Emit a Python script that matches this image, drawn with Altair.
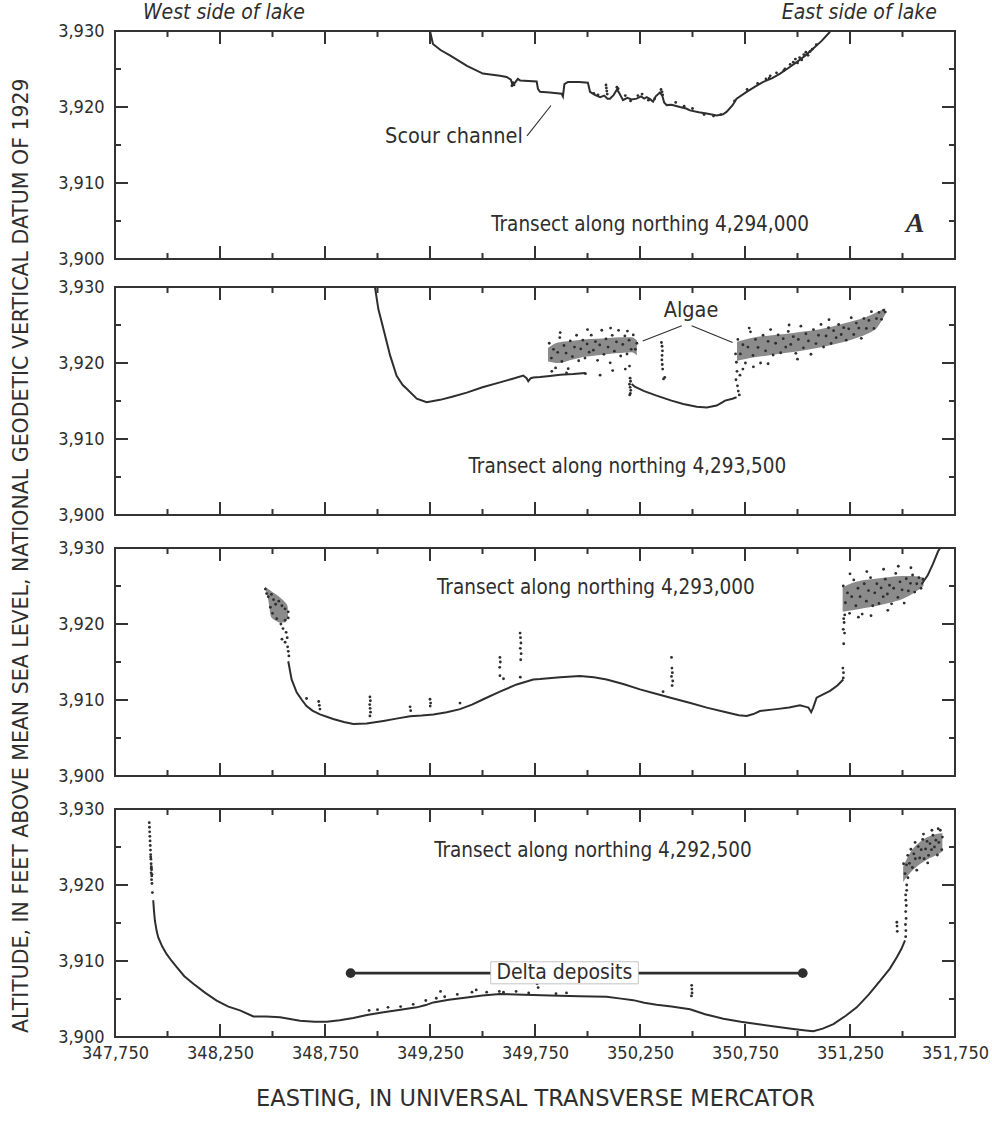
import altair as alt
import pandas as pd

FONT = "DejaVu Sans Condensed, Liberation Sans Narrow, sans-serif"
TFONT = "DejaVu Sans, sans-serif"
SERIF = "Liberation Serif, DejaVu Serif, serif"
INK = "#2e2e2e"
FRAME = "#333333"
CLOUD = "#444444"
W, H = 840, 228
XDOM = [347750, 351750]
YDOM = [3900, 3930]

X_TITLE = "EASTING, IN UNIVERSAL TRANSVERSE MERCATOR"
Y_TITLE = "ALTITUDE, IN FEET ABOVE MEAN SEA LEVEL, NATIONAL GEODETIC VERTICAL DATUM OF  1929"

X_LABELS = [347750, 348250, 348750, 349250, 349750, 350250, 350750, 351250, 351750]
X_MAJOR = [348250, 348750, 349250, 349750, 350250, 350750, 351250]
X_MINOR = [348000, 348500, 349000, 349500, 350000, 350500, 351000, 351500]
Y_LABELS = [3900, 3910, 3920, 3930]
Y_MAJOR = [3910, 3920]
Y_MINOR = [3905, 3915, 3925]

# ---------------- Panel 1: northing 4,294,000 ----------------
P1_LINE = [(349250, 3930.0), (349264, 3928.3), (349300, 3927.5), (349345, 3926.8), (349426, 3925.4),
           (349502, 3924.4), (349583, 3924.1), (349615, 3923.95), (349635, 3923.6), (349642, 3923.0),
           (349655, 3923.2), (349668, 3923.7), (349679, 3923.5), (349758, 3923.35), (349764, 3922.4),
           (349774, 3922.0), (349820, 3921.9), (349877, 3921.75), (349883, 3921.4), (349890, 3923.0),
           (349907, 3923.3), (349960, 3923.3), (350002, 3923.2), (350012, 3922.0), (350035, 3921.6),
           (350060, 3921.3), (350080, 3921.5), (350095, 3921.1), (350107, 3921.1), (350125, 3921.6),
           (350140, 3922.3), (350150, 3921.9), (350169, 3920.9), (350190, 3921.2), (350210, 3921.0),
           (350234, 3921.1), (350255, 3921.4), (350270, 3921.1), (350282, 3921.3), (350300, 3921.0),
           (350312, 3920.7), (350325, 3921.4), (350345, 3921.9), (350356, 3921.5), (350365, 3920.6),
           (350377, 3920.25), (350400, 3920.3), (350440, 3920.0), (350470, 3919.8), (350488, 3919.55),
           (350530, 3919.3), (350567, 3919.15), (350615, 3918.9), (350645, 3919.05), (350662, 3919.35),
           (350690, 3920.2), (350710, 3921.1), (350758, 3922.0), (350800, 3922.7), (350837, 3923.3),
           (350880, 3923.8), (350917, 3924.4), (350960, 3925.2), (350996, 3925.9), (351035, 3926.7),
           (351075, 3927.7), (351115, 3928.7), (351155, 3929.9)]
P1_DOTS = [(349640, 3922.8), (349645, 3923.2), (349650, 3922.9), (350088, 3922.9), (350090, 3922.5),
           (350092, 3922.1), (350094, 3921.7), (350140, 3922.6), (350146, 3922.4), (350350, 3922.3),
           (350355, 3922.0), (350358, 3921.6), (350240, 3921.5), (350260, 3921.7), (350180, 3921.5),
           (350030, 3921.8), (350050, 3921.6), (350420, 3920.6), (350460, 3920.1), (350500, 3919.8),
           (350850, 3923.7), (350870, 3924.1), (350900, 3924.5), (350940, 3925.0), (350965, 3925.6),
           (350990, 3926.3), (351010, 3926.5), (351040, 3927.2), (351060, 3927.3), (351090, 3928.2),
           (351020, 3926.2), (350980, 3925.9), (351050, 3926.8), (351070, 3927.6), (350700, 3920.8),
           (350760, 3922.3), (350810, 3923.1), (350205, 3920.8), (350290, 3920.9), (350320, 3921.1),
           (350555, 3919.0), (350600, 3918.8), (350635, 3919.0), (350865, 3923.8), (350935, 3924.8),
           (351000, 3925.8), (351030, 3926.9)]

# ---------------- Panel 2: northing 4,293,500 ----------------
P2_LINE_W = [(348988, 3930.0), (349004, 3927.1), (349028, 3924.5), (349060, 3921.0), (349091, 3918.3),
             (349120, 3917.1), (349139, 3916.6), (349187, 3915.3), (349234, 3914.85), (349298, 3915.15),
             (349360, 3915.6), (349425, 3916.1), (349500, 3916.8), (349583, 3917.45), (349640, 3917.9),
             (349694, 3918.35), (349710, 3918.0), (349718, 3917.6), (349730, 3918.0), (349742, 3918.1),
             (349774, 3918.15), (349821, 3918.3), (349870, 3918.45), (349932, 3918.55), (349990, 3918.7)]
P2_LINE_M = [(350210, 3917.25), (350225, 3916.9), (350270, 3916.3), (350329, 3915.7), (350400, 3915.05),
             (350456, 3914.6), (350520, 3914.25), (350568, 3914.15), (350615, 3914.4), (350640, 3914.8),
             (350655, 3915.05), (350690, 3915.3), (350710, 3915.5)]
P2_ALGAE_W_E = [349812, 349860, 349920, 349980, 350040, 350100, 350160, 350210, 350235]
P2_ALGAE_W_HI = [3922.0, 3922.7, 3922.9, 3923.1, 3923.2, 3923.3, 3923.4, 3923.4, 3923.0]
P2_ALGAE_W_LO = [3920.2, 3920.0, 3920.4, 3920.8, 3921.0, 3921.2, 3921.3, 3921.4, 3921.0]
P2_ALGAE_E_E = [350712, 350780, 350860, 350940, 351020, 351100, 351180, 351260, 351330, 351380, 351418]
P2_ALGAE_E_HI = [3922.8, 3923.3, 3923.6, 3923.8, 3924.1, 3924.4, 3924.9, 3925.5, 3926.1, 3926.7, 3927.2]
P2_ALGAE_E_LO = [3920.3, 3920.7, 3921.0, 3921.3, 3921.6, 3922.0, 3922.5, 3923.1, 3923.8, 3924.7, 3926.4]
P2_DOTS = [
    # western algae cloud
    (349818, 3922.6), (349828, 3920.65), (349838, 3921.8), (349848, 3919.35), (349858, 3921.4),
    (349868, 3923.35), (349878, 3920.2), (349888, 3922.3), (349898, 3921.3), (349908, 3919.25),
    (349918, 3922.9), (349928, 3920.85), (349938, 3922.1), (349948, 3923.65), (349958, 3920.3),
    (349968, 3921.85), (349978, 3923.0), (349988, 3920.65), (349998, 3922.5), (350008, 3921.43),
    (350018, 3923.66), (350028, 3921.69), (350038, 3922.82), (350048, 3920.35), (350058, 3922.38),
    (350068, 3924.31), (350078, 3921.14), (350088, 3923.17), (350098, 3922.1), (350108, 3920.02),
    (350118, 3923.64), (350128, 3921.56), (350138, 3922.78), (350148, 3924.3), (350158, 3920.92),
    (350168, 3922.44), (350178, 3923.56), (350188, 3921.18), (350198, 3923.0), (350208, 3921.8),
    (350218, 3923.7), (350228, 3921.8), (350235, 3922.6), (349830, 3918.9), (349900, 3918.7),
    (349990, 3918.6), (350060, 3918.4), (350120, 3919.0), (350180, 3919.2), (349870, 3924.0),
    (350000, 3924.4), (350110, 3924.6), (350190, 3924.2),
    # vertical strings
    (350200, 3919.6), (350203, 3918.0), (350205, 3917.6), (350200, 3917.2), (350203, 3916.8),
    (350206, 3916.4), (350204, 3916.0), (350201, 3915.8),
    (350352, 3922.7), (350355, 3922.2), (350357, 3921.6), (350355, 3921.0), (350354, 3920.4),
    (350356, 3919.8), (350358, 3919.2), (350362, 3917.9), (350368, 3918.1),
    (350705, 3921.2), (350709, 3920.1), (350712, 3918.9), (350707, 3917.8), (350714, 3917.0),
    (350718, 3916.3), (350723, 3915.8), (350726, 3918.4),
    # eastern algae cloud
    (350716, 3923.1), (350728, 3921.2), (350740, 3922.4), (350752, 3920.0), (350764, 3922.1),
    (350776, 3924.1), (350788, 3921.0), (350800, 3923.1), (350812, 3922.05), (350824, 3920.0),
    (350836, 3923.65), (350848, 3921.6), (350860, 3922.85), (350872, 3924.4), (350884, 3921.05),
    (350896, 3922.6), (350908, 3923.7), (350920, 3921.35), (350932, 3923.2), (350944, 3922.1),
    (350956, 3924.15), (350968, 3922.45), (350980, 3923.46), (350992, 3921.27), (351004, 3923.1),
    (351016, 3924.85), (351028, 3922.0), (351040, 3923.85), (351052, 3922.9), (351064, 3921.15),
    (351076, 3924.4), (351088, 3922.55), (351100, 3923.65), (351112, 3925.08), (351124, 3922.11),
    (351136, 3923.55), (351148, 3924.64), (351160, 3922.57), (351172, 3924.25), (351184, 3923.33),
    (351196, 3925.07), (351208, 3923.75), (351220, 3924.65), (351232, 3923.0), (351244, 3924.5),
    (351256, 3925.95), (351268, 3923.75), (351280, 3925.25), (351292, 3924.6), (351304, 3923.25),
    (351316, 3925.85), (351328, 3924.55), (351340, 3925.6), (351352, 3926.75), (351364, 3924.55),
    (351376, 3925.85), (351388, 3926.65), (351400, 3925.75), (351410, 3926.95), (351418, 3926.7),
    (350740, 3919.2), (350790, 3919.5), (350860, 3919.9), (351000, 3920.5), (350770, 3924.6),
    (350960, 3925.0), (351150, 3925.7)]

# ---------------- Panel 3: northing 4,293,000 ----------------
P3_LINE = [(348575, 3915.1), (348591, 3912.7), (348615, 3911.0), (348640, 3910.0), (348662, 3909.2),
           (348690, 3908.6), (348726, 3908.1), (348789, 3907.5), (348840, 3907.1), (348885, 3906.85),
           (348948, 3906.9), (349028, 3907.25), (349090, 3907.55), (349155, 3907.85), (349210, 3907.95),
           (349266, 3908.1), (349330, 3908.4), (349393, 3908.8), (349450, 3909.4), (349504, 3910.1),
           (349583, 3911.1), (349663, 3912.05), (349742, 3912.7), (349774, 3912.75), (349870, 3913.0),
           (349964, 3913.15), (350030, 3913.0), (350091, 3912.7), (350170, 3912.1), (350250, 3911.4),
           (350330, 3910.8), (350409, 3910.2), (350490, 3909.6), (350568, 3909.0), (350660, 3908.4),
           (350720, 3908.0), (350758, 3907.9), (350790, 3908.15), (350821, 3908.55), (350900, 3908.8),
           (350960, 3909.0), (351012, 3909.3), (351040, 3909.1), (351052, 3909.0), (351065, 3908.4),
           (351075, 3909.0), (351091, 3910.3), (351155, 3911.2), (351190, 3911.9), (351218, 3912.7)]
P3_LINE_E = [(351590, 3925.2), (351620, 3926.4), (351645, 3927.9), (351670, 3929.6), (351680, 3930.0)]
P3_COMET_Z = [3924.9, 3924.4, 3923.4, 3922.3, 3921.0, 3920.2]
P3_COMET_L = [348464, 348468, 348478, 348485, 348492, 348530]
P3_COMET_R = [348466, 348490, 348540, 348572, 348574, 348560]
P3_ALGAE_E = [351215, 351260, 351320, 351380, 351440, 351500, 351550, 351600]
P3_ALGAE_HI = [3924.8, 3925.4, 3925.8, 3926.0, 3926.2, 3926.3, 3926.3, 3926.1]
P3_ALGAE_LO = [3921.6, 3921.8, 3922.1, 3922.4, 3922.8, 3923.3, 3924.0, 3925.0]
P3_DOTS = [
    (348662, 3910.2), (348720, 3909.8), (348723, 3909.3), (348726, 3908.8), (348964, 3910.4),
    (348966, 3909.9), (348963, 3909.4), (348965, 3908.9), (348967, 3908.4), (348964, 3907.9),
    (349155, 3909.1), (349158, 3908.6), (349250, 3910.1), (349253, 3909.6), (349251, 3909.2),
    (349393, 3909.6), (349583, 3915.6), (349585, 3915.0), (349582, 3914.3), (349583, 3913.2),
    (349600, 3912.8), (349679, 3918.8), (349681, 3918.2), (349683, 3917.5), (349680, 3916.8),
    (349684, 3916.1), (349682, 3915.3), (349680, 3913.0), (350400, 3915.6), (350402, 3914.2),
    (350404, 3913.6), (350400, 3913.1), (350406, 3912.5), (350403, 3911.9), (350360, 3911.1),
    # western comet of algae
    (348466, 3924.6), (348472, 3924.0), (348480, 3923.6), (348495, 3923.9), (348505, 3923.2),
    (348515, 3922.6), (348530, 3923.0), (348545, 3922.4), (348560, 3922.0), (348575, 3921.6),
    (348575, 3920.8), (348560, 3920.5), (348540, 3920.0), (348520, 3920.7), (348500, 3921.4),
    (348490, 3922.2), (348550, 3919.4), (348565, 3918.9), (348570, 3918.2), (348560, 3917.6),
    (348572, 3917.0), (348575, 3916.4), (348578, 3915.8), (348545, 3918.0),
    # eastern trail and cloud
    (351218, 3912.9), (351219, 3913.6), (351216, 3914.2), (351220, 3917.4), (351224, 3918.8),
    (351218, 3919.3), (351222, 3920.2), (351220, 3920.7), (351225, 3921.2),
    (351218, 3925.0), (351228, 3922.8), (351238, 3924.1), (351248, 3921.4), (351258, 3923.6),
    (351268, 3925.8), (351278, 3922.4), (351288, 3924.7), (351298, 3923.6), (351308, 3921.3),
    (351318, 3925.3), (351328, 3923.0), (351338, 3924.4), (351348, 3926.1), (351358, 3922.4),
    (351368, 3924.1), (351378, 3925.3), (351388, 3922.7), (351398, 3924.75), (351408, 3923.6),
    (351418, 3925.9), (351428, 3923.95), (351438, 3925.1), (351448, 3922.65), (351458, 3924.7),
    (351468, 3926.65), (351478, 3923.5), (351488, 3925.55), (351498, 3924.5), (351508, 3922.75),
    (351518, 3925.95), (351528, 3924.35), (351538, 3925.35), (351548, 3926.45), (351558, 3924.2),
    (351568, 3925.3), (351578, 3926.1), (351588, 3924.7), (351598, 3925.9),
    (351250, 3926.6), (351330, 3926.9), (351410, 3927.2), (351480, 3927.6), (351540, 3927.4),
    (351290, 3920.9), (351350, 3921.1), (351430, 3921.8)]

# ---------------- Panel 4: northing 4,292,500 ----------------
P4_LINE = [(347932, 3918.0), (347936, 3916.5), (347940, 3915.3), (347948, 3914.0), (347956, 3913.1),
           (347975, 3911.9), (347996, 3910.9), (348020, 3910.0), (348044, 3909.2), (348080, 3908.0),
           (348123, 3907.0), (348180, 3905.8), (348234, 3904.8), (348290, 3904.0), (348345, 3903.5),
           (348409, 3902.7), (348470, 3902.7), (348536, 3902.6), (348631, 3902.15), (348700, 3902.0),
           (348758, 3902.0), (348820, 3902.2), (348885, 3902.5), (348950, 3902.9), (349028, 3903.25),
           (349110, 3903.6), (349187, 3903.9), (349230, 3904.2), (349266, 3904.55), (349340, 3904.9),
           (349425, 3905.2), (349500, 3905.45), (349583, 3905.65), (349700, 3905.55), (349821, 3905.45),
           (349960, 3905.35), (350091, 3905.3), (350160, 3905.05), (350218, 3904.85), (350270, 3904.5),
           (350329, 3904.25), (350400, 3904.0), (350488, 3903.65), (350560, 3903.0), (350647, 3902.4),
           (350730, 3902.0), (350806, 3901.7), (350900, 3901.35), (350980, 3901.05), (351040, 3900.85),
           (351075, 3900.75), (351120, 3901.1), (351171, 3901.7), (351230, 3902.8), (351282, 3903.9),
           (351340, 3905.6), (351393, 3907.4), (351440, 3909.0), (351473, 3910.5), (351495, 3911.6),
           (351512, 3912.7)]
P4_ALGAE_E = [351503, 351540, 351580, 351620, 351660, 351690]
P4_ALGAE_HI = [3922.4, 3924.4, 3925.6, 3926.3, 3926.7, 3926.8]
P4_ALGAE_LO = [3920.4, 3921.7, 3922.7, 3923.4, 3923.9, 3924.4]
P4_DOTS = [
    (347913, 3928.2), (347914, 3927.6), (347915, 3927.0), (347916, 3926.4), (347917, 3925.8),
    (347918, 3925.2), (347919, 3924.6), (347920, 3924.0), (347921, 3923.4), (347922, 3922.8),
    (347923, 3922.4), (347924, 3922.0), (347922, 3921.6), (347925, 3921.2), (347924, 3920.7),
    (347926, 3920.2), (347928, 3919.0), (347920, 3923.7), (347923, 3922.2), (347926, 3921.4),
    (348960, 3903.5), (349000, 3903.6), (349050, 3903.9), (349110, 3904.0), (349170, 3904.3),
    (349230, 3904.8), (349280, 3905.1), (349300, 3906.0), (349320, 3905.3), (349380, 3905.6),
    (349450, 3905.9), (349470, 3906.2), (349520, 3905.9), (349580, 3906.0), (349600, 3905.9),
    (349660, 3906.0), (349720, 3905.8), (349760, 3907.0), (349765, 3906.5), (349850, 3905.7),
    (349900, 3905.8), (350496, 3906.8), (350497, 3906.3), (350498, 3905.8), (350495, 3905.4),
    (351515, 3913.2), (351516, 3914.0), (351514, 3914.8), (351517, 3915.6), (351515, 3916.5),
    (351518, 3917.3), (351516, 3918.0), (351515, 3918.7), (351520, 3919.3), (351473, 3915.1),
    (351474, 3914.6), (351475, 3913.9), (351520, 3920.0),
    (351505, 3922.8), (351512, 3921.5), (351519, 3922.65), (351526, 3920.95), (351533, 3922.85),
    (351540, 3924.7), (351547, 3922.3), (351554, 3924.1), (351561, 3923.45), (351568, 3921.95),
    (351575, 3925.05), (351582, 3923.55), (351589, 3924.65), (351596, 3926.0), (351603, 3923.45),
    (351610, 3924.75), (351617, 3925.75), (351624, 3923.9), (351631, 3925.45), (351638, 3924.65),
    (351645, 3926.55), (351652, 3925.0), (351659, 3925.9), (351666, 3923.95), (351673, 3925.6),
    (351680, 3927.2), (351687, 3924.65), (351690, 3926.3),
    (351525, 3923.9), (351560, 3925.6), (351600, 3926.7), (351640, 3927.2), (351670, 3927.4),
    (351620, 3922.9)]
DELTA_SPAN = (348872, 351025, 3908.4)
DELTA_BOX = (349539, 350242, 3907.0, 3909.9)


def make_panel(bottom, lines, dots, bands, hbands, texts, leaders, extra=None):
    if bottom:
        xax = alt.Axis(values=X_LABELS, format=",.0f", labelFont=FONT, labelFontSize=18,
                       labelColor=INK, labelPadding=7, labelFlush=False, labelOverlap=False,
                       ticks=False, tickSize=0, domain=False, grid=False, title=X_TITLE,
                       titleFont=TFONT, titleFontSize=22.5, titleFontWeight="normal",
                       titleColor=INK, titlePadding=25)
    else:
        xax = None
    yax = alt.Axis(values=Y_LABELS, format=",.0f", labelFont=FONT, labelFontSize=18,
                   labelColor=INK, labelPadding=11, labelFlush=False, labelOverlap=False,
                   ticks=False, tickSize=0, domain=False, grid=False, title=None)
    xs = alt.Scale(domain=XDOM, nice=False, zero=False)
    ys = alt.Scale(domain=YDOM, nice=False, zero=False)

    def X(f="E"):
        return alt.X(f + ":Q", scale=xs, axis=xax)

    def Y(f="Z"):
        return alt.Y(f + ":Q", scale=ys, axis=yax)

    layers = []
    for vals, L in ((X_MAJOR, 13), (X_MINOR, 6)):
        d = pd.DataFrame({"E": vals})
        b = alt.Chart(d).mark_rule(color=FRAME, strokeWidth=2)
        layers.append(b.encode(x=X(), y=alt.value(0), y2=alt.value(L)))
        layers.append(b.encode(x=X(), y=alt.value(H), y2=alt.value(H - L)))
    for vals, L in ((Y_MAJOR, 13), (Y_MINOR, 6)):
        d = pd.DataFrame({"Z": vals})
        b = alt.Chart(d).mark_rule(color=FRAME, strokeWidth=2)
        layers.append(b.encode(y=Y(), x=alt.value(0), x2=alt.value(L)))
        layers.append(b.encode(y=Y(), x=alt.value(W), x2=alt.value(W - L)))

    for (be, hi, lo) in bands:
        d = pd.DataFrame({"E": be, "Z": hi, "Z2": lo})
        layers.append(alt.Chart(d).mark_area(color=CLOUD, opacity=0.62, interpolate="monotone")
                      .encode(x=X(), y=Y(), y2="Z2:Q"))
    for (bz, bl, br) in hbands:
        d = pd.DataFrame({"Z": bz, "E": bl, "E2": br})
        layers.append(alt.Chart(d).mark_area(color=CLOUD, opacity=0.62, orient="horizontal",
                                             interpolate="monotone")
                      .encode(y=Y(), x=X(), x2="E2:Q"))
    rows = []
    for i, seg in enumerate(lines):
        for k, (e, z) in enumerate(seg):
            rows.append({"E": e, "Z": z, "seg": i, "k": k})
    if rows:
        d = pd.DataFrame(rows)
        layers.append(alt.Chart(d).mark_line(color=INK, strokeWidth=2)
                      .encode(x=X(), y=Y(), detail="seg:N", order="k:Q"))
    if dots:
        d = pd.DataFrame(dots, columns=["E", "Z"])
        layers.append(alt.Chart(d).mark_circle(color=INK, size=8, opacity=1).encode(x=X(), y=Y()))
    for (e1, z1, e2, z2) in leaders:
        d = pd.DataFrame({"E": [e1], "Z": [z1], "E2": [e2], "Z2": [z2]})
        layers.append(alt.Chart(d).mark_rule(color=INK, strokeWidth=1.1)
                      .encode(x=X(), y=Y(), x2="E2:Q", y2="Z2:Q"))
    if extra == "delta":
        e1, e2, z = DELTA_SPAN
        d = pd.DataFrame({"E": [e1], "E2": [e2], "Z": [z]})
        layers.append(alt.Chart(d).mark_rule(color=INK, strokeWidth=2.6)
                      .encode(x=X(), x2="E2:Q", y=Y()))
        d = pd.DataFrame({"E": [e1, e2], "Z": [z, z]})
        layers.append(alt.Chart(d).mark_circle(color=INK, size=95, opacity=1).encode(x=X(), y=Y()))
        b1, b2, bz1, bz2 = DELTA_BOX
        d = pd.DataFrame({"E": [b1], "E2": [b2], "Z": [bz1], "Z2": [bz2]})
        layers.append(alt.Chart(d).mark_rect(fill="white", stroke="#b8b8b8", strokeWidth=0.8)
                      .encode(x=X(), x2="E2:Q", y=Y(), y2="Z2:Q"))
    for (e, z, txt, size, align, style, weight, font) in texts:
        d = pd.DataFrame({"E": [e], "Z": [z], "t": [txt]})
        layers.append(alt.Chart(d).mark_text(font=font, fontSize=size, align=align, baseline="middle",
                                             fontStyle=style, fontWeight=weight, color=INK)
                      .encode(x=X(), y=Y(), text="t:N"))
    return alt.layer(*layers).properties(width=W, height=H)


p1 = make_panel(
    False, [P1_LINE], P1_DOTS, [], [],
    [(347883, 3932.4, "West side of lake", 21, "left", "italic", "normal", FONT),
     (351664, 3932.4, "East side of lake", 21, "right", "italic", "normal", FONT),
     (349364, 3916.1, "Scour channel", 21.5, "center", "normal", "normal", FONT),
     (350298, 3904.5, "Transect along northing 4,294,000", 20.5, "center", "normal", "normal", FONT),
     (351560, 3904.6, "A", 28, "center", "italic", "bold", SERIF)],
    [(349712, 3916.2, 349826, 3920.2)])

p2 = make_panel(
    False, [P2_LINE_W, P2_LINE_M], P2_DOTS,
    [(P2_ALGAE_W_E, P2_ALGAE_W_HI, P2_ALGAE_W_LO), (P2_ALGAE_E_E, P2_ALGAE_E_HI, P2_ALGAE_E_LO)], [],
    [(350493, 3926.8, "Algae", 21.5, "center", "normal", "normal", FONT),
     (350190, 3906.3, "Transect along northing 4,293,500", 20.5, "center", "normal", "normal", FONT)],
    [(350263, 3922.9, 350449, 3924.9), (350496, 3924.9, 350691, 3922.7)])

p3 = make_panel(
    False, [P3_LINE, P3_LINE_E], P3_DOTS,
    [(P3_ALGAE_E, P3_ALGAE_HI, P3_ALGAE_LO)], [(P3_COMET_Z, P3_COMET_L, P3_COMET_R)],
    [(350040, 3924.8, "Transect along northing 4,293,000", 20.5, "center", "normal", "normal", FONT)],
    [])

p4 = make_panel(
    True, [P4_LINE], P4_DOTS,
    [(P4_ALGAE_E, P4_ALGAE_HI, P4_ALGAE_LO)], [],
    [(350026, 3924.5, "Transect along northing 4,292,500", 20.5, "center", "normal", "normal", FONT),
     (349890, 3908.4, "Delta deposits", 21, "center", "normal", "normal", FONT)],
    [], extra="delta")

inner = alt.vconcat(p2, p3, p4, spacing=33, bounds="flush")
chart = alt.vconcat(p1, inner, spacing=28, bounds="flush").properties(
    title=alt.TitleParams(text=Y_TITLE, orient="left", anchor="middle", font=TFONT, fontSize=20.5,
                          fontWeight="normal", color=INK, offset=24),
    padding={"left": 12, "top": 0, "right": 0, "bottom": 4},
).configure(background="white", font=FONT).configure_view(stroke=FRAME, strokeWidth=2)

chart.save("out.html", embed_options={"renderer": "svg", "actions": False})
